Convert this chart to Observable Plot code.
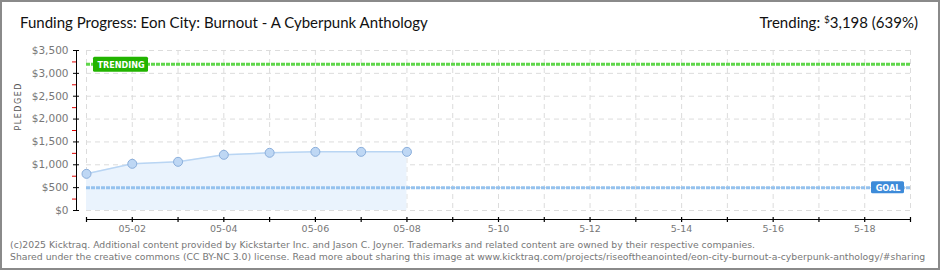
<!DOCTYPE html>
<html>
<head>
<meta charset="utf-8">
<script src="https://cdn.jsdelivr.net/npm/d3@7"></script>
<script src="https://cdn.jsdelivr.net/npm/@observablehq/plot@0.6"></script>
<style>
  html, body { margin: 0; padding: 0; background: #fff; }
  #wrap { position: relative; width: 940px; height: 270px; overflow: hidden; background: #fff; }
  #wrap svg { position: absolute; left: 0; top: 0; }
  .border { position: absolute; left: 0; top: 0; width: 940px; height: 270px; box-sizing: border-box; border: 2px solid #8a8a8a; pointer-events: none; }
  .title { position: absolute; left: 20px; top: 13px; font: 15px Lato, sans-serif; color: #111; white-space: nowrap; }
  .trend { position: absolute; right: 22px; top: 13px; font: 15px Lato, sans-serif; color: #111; white-space: nowrap; }
  .trend .cur { font-size: 10px; vertical-align: 5px; }
  .foot { position: absolute; left: 10px; font: 9.3px "DejaVu Sans", sans-serif; color: #777; white-space: nowrap; }
</style>
</head>
<body>
<div id="wrap">
  <div class="title" id="title"></div>
  <div class="trend" id="trend"></div>
  <div class="foot" id="foot1" style="top:239px"></div>
  <div class="foot" id="foot2" style="top:251px"></div>
  <div class="border"></div>
</div>
<script>
// ---- data ----
const titleText = "Funding Progress: Eon City: Burnout - A Cyberpunk Anthology";
const trendLabel = "Trending:";
const trendCurrency = "$";
const trendValueText = "3,198 (639%)";
const footLine1 = "(c)2025 Kicktraq. Additional content provided by Kickstarter Inc. and Jason C. Joyner. Trademarks and related content are owned by their respective companies.";
const footLine2 = "Shared under the creative commons (CC BY-NC 3.0) license. Read more about sharing this image at www.kicktraq.com/projects/riseoftheanointed/eon-city-burnout-a-cyberpunk-anthology/#sharing";

const dates = ["2025-05-01","2025-05-02","2025-05-03","2025-05-04","2025-05-05","2025-05-06","2025-05-07","2025-05-08"];
const pledged = [802, 1021, 1065, 1218, 1262, 1283, 1283, 1283];
const goal = 500;
const trending = 3198;
const xStart = "2025-05-01";
const xEnd = "2025-05-19";
const yTicks = [0, 500, 1000, 1500, 2000, 2500, 3000, 3500];
const yMinorTicks = [250, 750, 1250, 1750, 2250, 2750, 3250];
const xLabelDates = ["2025-05-02","2025-05-04","2025-05-06","2025-05-08","2025-05-10","2025-05-12","2025-05-14","2025-05-16","2025-05-18"];
const xLabels = ["05-02","05-04","05-06","05-08","5-10","5-12","5-14","5-16","5-18"];
const yAxisLabel = "PLEDGED";
const goalLabel = "GOAL";
const trendingLabel = "TRENDING";

// ---- build ----
document.getElementById("title").textContent = titleText;
document.getElementById("trend").innerHTML = trendLabel + " <span class='cur'>" + trendCurrency + "</span>" + trendValueText;
document.getElementById("foot1").textContent = footLine1;
document.getElementById("foot2").textContent = footLine2;

const rows = dates.map((d, i) => ({date: new Date(d), value: pledged[i]}));
const start = new Date(xStart), end = new Date(xEnd);
const days = d3.utcDay.range(start, d3.utcDay.offset(end, 1));
const xLabelRows = xLabelDates.map((d, i) => ({date: new Date(d), label: xLabels[i]}));
const fmtY = d3.format("$,");
const blank = () => "";

const chart = Plot.plot({
  width: 940,
  height: 270,
  marginLeft: 86,
  marginRight: 30,
  marginTop: 50,
  marginBottom: 60,
  x: {type: "utc", domain: [start, end]},
  y: {domain: [0, 3500]},
  style: {fontFamily: "DejaVu Sans", fontSize: "10.5px", color: "#777", background: "transparent"},
  marks: [
    Plot.gridX(days, {stroke: "#dcdcdc", strokeOpacity: 1, strokeDasharray: "5,4"}),
    Plot.gridY(yTicks, {stroke: "#dcdcdc", strokeOpacity: 1, strokeDasharray: "5,4"}),
    Plot.areaY(rows, {x: "date", y: "value", fill: "#eaf3fd"}),
    Plot.line(rows, {x: "date", y: "value", stroke: "#b9d5f3", strokeWidth: 1.5}),
    Plot.ruleY([goal], {stroke: "#95c2ee", strokeWidth: 3, strokeDasharray: "4,1"}),
    Plot.ruleY([trending], {stroke: "#5fd64a", strokeWidth: 3, strokeDasharray: "4,1"}),
    Plot.dot(rows, {x: "date", y: "value", r: 4.5, fill: "#bed7f4", stroke: "#8aaedb", strokeWidth: 1}),
    // y axis
    Plot.frame({anchor: "left", dx: -10, stroke: "#000"}),
    Plot.axisY(yTicks, {tickSize: 6, dx: -7, stroke: "#000", strokeOpacity: 1, tickFormat: blank, label: null}),
    Plot.axisY(yMinorTicks, {tickSize: 4, dx: -10, stroke: "#e00000", strokeOpacity: 1, tickFormat: blank, label: null}),
    Plot.axisY(yTicks, {tickSize: 0, tickPadding: 11, dx: -7, tickFormat: fmtY, fill: "#777", label: null}),
    Plot.text([yAxisLabel], {frameAnchor: "left", dx: -68, rotate: -90, fontSize: 8, fill: "#555"}),
    // x axis
    Plot.frame({anchor: "bottom", dy: 9, stroke: "#000"}),
    Plot.axisX(days, {tickSize: 5, dy: 7, stroke: "#000", strokeOpacity: 1, strokeWidth: 1.2, tickFormat: blank, label: null}),
    Plot.text(xLabelRows, {x: "date", text: "label", frameAnchor: "bottom", dy: 15, lineAnchor: "top", fontSize: 9.5, fill: "#777"}),
    // TRENDING tag
    Plot.rect([trending], {x1: () => start, x2: () => start, y1: d => d, y2: d => d,
      insetLeft: 7, insetRight: -62, insetTop: -7, insetBottom: -8, fill: "#22b400", rx: 1.5}),
    Plot.text([trendingLabel], {x: () => start, y: () => trending, dx: 34.5, dy: 0.5, fill: "#fff", fontSize: 9, fontWeight: "bold", fontFamily: "DejaVu Sans Condensed"}),
    // GOAL tag
    Plot.rect([goal], {x1: () => end, x2: () => end, y1: d => d, y2: d => d,
      insetLeft: -39, insetRight: 6, insetTop: -6, insetBottom: -6, fill: "#3d8bd9", rx: 1.5}),
    Plot.text([goalLabel], {x: () => end, y: () => goal, dx: -22.5, dy: 0.5, fill: "#fff", fontSize: 9, fontWeight: "bold", fontFamily: "DejaVu Sans Condensed"})
  ]
});
d3.select(chart).selectAll("text").filter(function() { return this.textContent === yAxisLabel; }).attr("letter-spacing", "1.5px");
document.getElementById("wrap").insertBefore(chart, document.querySelector(".border"));
</script>
</body>
</html>
